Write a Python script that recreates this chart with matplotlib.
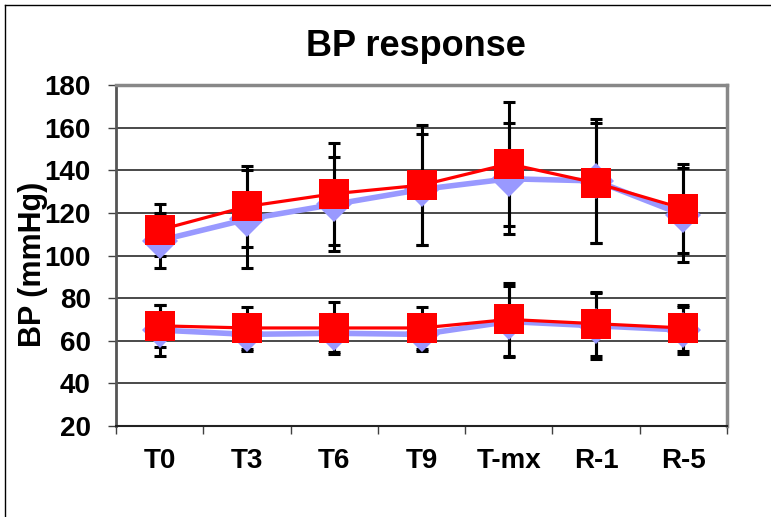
import matplotlib
matplotlib.use("Agg")
import matplotlib.pyplot as plt
from matplotlib.lines import Line2D
import numpy as np

categories = ["T0", "T3", "T6", "T9", "T-mx", "R-1", "R-5"]

blue_sys = [107, 117, 124, 131, 136, 135, 119]
blue_sys_err = [13, 23, 22, 26, 26, 29, 22]
red_sys = [112, 123, 129, 133, 143, 134, 122]
red_sys_err = [12, 19, 24, 28, 29, 28, 21]

blue_dia = [65, 63, 63.5, 63, 69, 67, 65]
blue_dia_err = [12, 8, 9, 8, 16.5, 15.5, 11]
red_dia = [67, 66, 66, 66, 70, 68, 66]
red_dia_err = [10, 10, 12, 10, 17, 15, 11]

y_ticks = [20, 40, 60, 80, 100, 120, 140, 160, 180]

plt.rcParams['font.family'] = ['Liberation Sans', 'DejaVu Sans']
plt.rcParams['font.weight'] = 'bold'

W, H = 771, 517
fig = plt.figure(figsize=(W / 100, H / 100), dpi=100)
ax = fig.add_axes([116 / W, 1 - 426 / H, (727 - 116) / W, (426 - 85) / H])

x = np.arange(len(categories))
blue = '#9999FF'
red = '#FF0000'

# error bars (behind markers)
for vals, errs in [(blue_sys, blue_sys_err), (red_sys, red_sys_err),
                   (blue_dia, blue_dia_err), (red_dia, red_dia_err)]:
    ax.errorbar(x, vals, yerr=errs, fmt='none', ecolor='black', elinewidth=2.2,
                capsize=4.3, capthick=2.2, zorder=3)

for vals in (blue_sys, blue_dia):
    ax.plot(x, vals, color=blue, lw=4, marker='D', ms=18.5, mew=0, zorder=4)
for vals in (red_sys, red_dia):
    ax.plot(x, vals, color=red, lw=2.3, marker='s', ms=22, mew=0, zorder=5)

ax.set_xlim(-0.5, len(categories) - 0.5)
ax.set_ylim(20, 180)
ax.set_yticks(y_ticks)
ax.set_yticklabels([str(v) for v in y_ticks], fontsize=20, fontweight='bold')
ax.set_xticks(x)
ax.set_xticklabels(categories, fontsize=20, fontweight='bold')
ax.set_xticks(np.arange(-0.5, len(categories), 1.0), minor=True)
ax.tick_params(axis='x', which='major', length=0, pad=16)
ax.tick_params(axis='x', which='minor', length=6, width=1, color='#404040', direction='out')
ax.tick_params(axis='y', which='major', length=6, width=1, color='#404040', direction='out', pad=12)

for v in y_ticks[1:-1]:
    ax.axhline(v, color='#2a2a2a', lw=1.2, zorder=1)

for s in ['top', 'right']:
    ax.spines[s].set_color('#888888')
    ax.spines[s].set_linewidth(2.5)
ax.spines['left'].set_color('#555555')
ax.spines['left'].set_linewidth(2)
ax.spines['bottom'].set_color('#222222')
ax.spines['bottom'].set_linewidth(1.5)

fig.text(416 / W, 1 - 46 / H, "BP response", fontsize=26, fontweight='bold',
         ha='center', va='center')
fig.text(33 / W, 1 - 264 / H, "BP (mmHg)", fontsize=22, fontweight='bold',
         rotation=90, ha='center', va='center')

# outer frame (partially cropped)
fig.add_artist(Line2D([5 / W, 5 / W], [0, 1 - 5 / H], color='black', lw=1))
fig.add_artist(Line2D([5 / W, 1], [1 - 5 / H, 1 - 5 / H], color='black', lw=1))

fig.savefig("out.png", dpi=100)
